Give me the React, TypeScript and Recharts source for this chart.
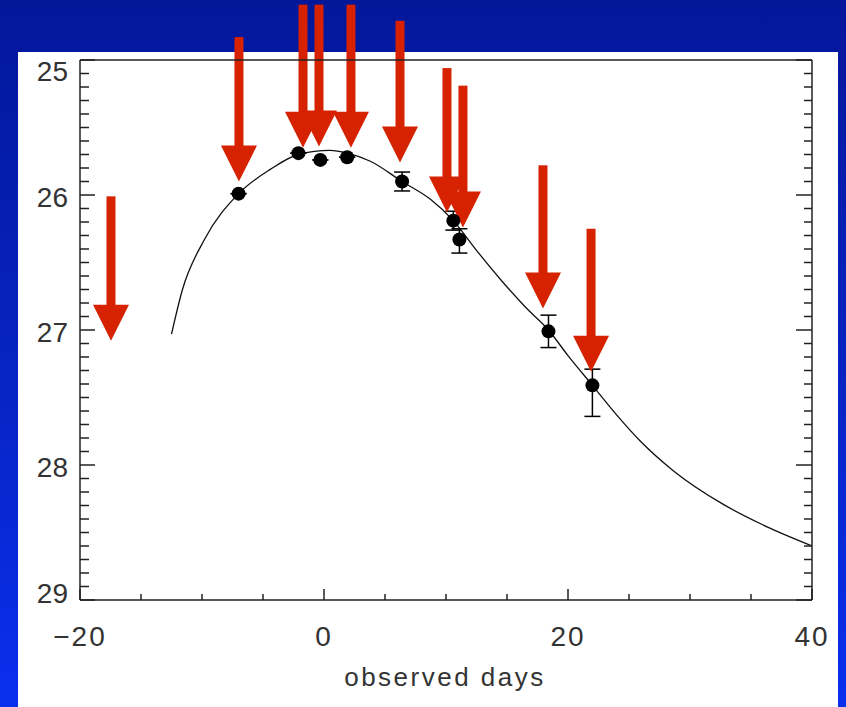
import {
  ComposedChart,
  ErrorBar,
  Line,
  ReferenceLine,
  Scatter,
  XAxis,
  YAxis,
} from "recharts";

// model light curve
const curveDays = [-12.5, -11.6, -9.8, -7.0, -4.4, -2.1, 0.5, 1.9, 3.8, 6.4, 8.7, 10.6, 12.5, 14.7, 16.5, 18.4, 20.0, 22.0, 24.0, 25.9, 28.6, 32.7, 36.6, 40];
const curveMags = [27.03, 26.7, 26.33, 25.99, 25.81, 25.7, 25.67, 25.69, 25.75, 25.9, 26.03, 26.19, 26.41, 26.65, 26.83, 27.0, 27.19, 27.41, 27.63, 27.82, 28.04, 28.29, 28.47, 28.6];

// observed points
const obsDays = [-7.0, -2.1, -0.3, 1.9, 6.4, 10.6, 11.1, 18.4, 22.0];
const obsMags = [25.99, 25.69, 25.74, 25.72, 25.9, 26.19, 26.33, 27.01, 27.41];
const obsErrLow = [0, 0, 0, 0, 0.07, 0.07, 0.08, 0.12, 0.12];
const obsErrHigh = [0, 0, 0, 0, 0.07, 0.07, 0.1, 0.12, 0.23];

// red epoch arrows: x, tip and tail in magnitudes
const arrowDays = [-17.46, -6.97, -1.72, -0.41, 2.21, 6.23, 10.08, 11.39, 17.95, 21.89];
const arrowTips = [27.08, 25.9, 25.65, 25.64, 25.65, 25.76, 26.13, 26.24, 26.84, 27.31];
const arrowTails = [26.01, 24.83, 24.59, 24.59, 24.59, 24.71, 25.06, 25.19, 25.78, 26.25];

const xTicks = [-20, -15, -10, -5, 0, 5, 10, 15, 20, 25, 30, 35, 40];
const xLabels = [-20, 0, 20, 40];
const yTicks = Array.from({ length: 41 }, (_, i) => +(25 + i * 0.1).toFixed(1));

const curveRows = curveDays.map((d, i) => ({ day: d, mag: curveMags[i] }));
const obsRows = obsDays.map((d, i) => ({
  day: d,
  mag: obsMags[i],
  err: [obsErrLow[i], obsErrHigh[i]],
}));

const AXIS = "#222";
const RED = "#d62200";
const FONT = "'Liberation Sans', Arial, sans-serif";

const isMajorY = (v: number) => Math.abs(v - Math.round(v)) < 1e-6;

const BottomTick = (props: any) => {
  const { x, y, payload } = props;
  const v = payload.value;
  const major = xLabels.includes(v);
  return (
    <g>
      <line x1={x} x2={x} y1={y} y2={y - (major ? 11 : 6)} stroke={AXIS} strokeWidth={1.5} />
      {major && (
        <text x={x} y={y + 46} textAnchor="middle" fontSize={28} fill="#333" fontFamily={FONT} letterSpacing={2}>
          {v < 0 ? "\u2212" + Math.abs(v) : v}
        </text>
      )}
    </g>
  );
};

const TopTick = (props: any) => {
  const { x, y, payload } = props;
  const major = xLabels.includes(payload.value);
  return <line x1={x} x2={x} y1={y} y2={y + (major ? 11 : 5)} stroke={AXIS} strokeWidth={1.5} />;
};

const LeftTick = (props: any) => {
  const { x, y, payload } = props;
  const v = payload.value;
  const major = isMajorY(v);
  const r = Math.round(v);
  const shift = r === 25 ? 11 : r === 29 ? -7 : 2;
  return (
    <g>
      <line x1={x} x2={x + (major ? 15 : 9)} y1={y} y2={y} stroke={AXIS} strokeWidth={1.5} />
      {major && (
        <text x={x - 12} y={y + shift} dy="0.36em" textAnchor="end" fontSize={28} fill="#333" fontFamily={FONT}>
          {r}
        </text>
      )}
    </g>
  );
};

const RightTick = (props: any) => {
  const { x, y, payload } = props;
  const major = isMajorY(payload.value);
  return <line x1={x} x2={x - (major ? 16 : 8)} y1={y} y2={y} stroke={AXIS} strokeWidth={1.5} />;
};

const Arrow = (props: any) => {
  const { x1, y1, x2, y2 } = props;
  const head = 36;
  return (
    <g>
      <rect x={x2 - 4.5} y={Math.min(y1, y2)} width={9} height={Math.abs(y2 - y1) - head + 1} fill={RED} />
      <polygon points={`${x2 - 18},${y2 - head} ${x2 + 18},${y2 - head} ${x2},${y2}`} fill={RED} />
    </g>
  );
};

const Dot = (props: any) => <circle cx={props.cx} cy={props.cy} r={7} fill="#000" />;

export default function App() {
  return (
    <div
      style={{
        position: "absolute",
        left: 0,
        top: 0,
        width: 846,
        height: 707,
        overflow: "hidden",
        background: "linear-gradient(180deg, #03179a 0%, #0724c4 55%, #0a2fee 100%)",
      }}
    >
      <div style={{ position: "absolute", left: 18, top: 52, width: 820, height: 655, background: "#fff" }} />
      <div style={{ position: "absolute", left: 0, top: 0 }}>
        <ComposedChart
          width={846}
          height={707}
          margin={{ top: 50, right: 24, bottom: 47, left: 20 }}
          style={{ overflow: "visible" }}
        >
          <XAxis
            xAxisId={0}
            dataKey="day"
            type="number"
            domain={[-20, 40]}
            ticks={xTicks}
            interval={0}
            height={60}
            tickSize={0}
            tickMargin={0}
            tickLine={false}
            axisLine={{ stroke: AXIS, strokeWidth: 1.5 }}
            tick={<BottomTick />}
            allowDataOverflow
          />
          <XAxis
            xAxisId="top"
            orientation="top"
            type="number"
            domain={[-20, 40]}
            ticks={xTicks}
            interval={0}
            height={10}
            tickSize={0}
            tickMargin={0}
            tickLine={false}
            axisLine={{ stroke: AXIS, strokeWidth: 1.5 }}
            tick={<TopTick />}
            allowDataOverflow
          />
          <YAxis
            yAxisId={0}
            type="number"
            domain={[25, 29]}
            reversed
            ticks={yTicks}
            interval={0}
            width={60}
            tickSize={0}
            tickMargin={0}
            tickLine={false}
            axisLine={{ stroke: AXIS, strokeWidth: 1.5 }}
            tick={<LeftTick />}
            allowDataOverflow
          />
          <YAxis
            yAxisId="right"
            orientation="right"
            type="number"
            domain={[25, 29]}
            reversed
            ticks={yTicks}
            interval={0}
            width={10}
            tickSize={0}
            tickMargin={0}
            tickLine={false}
            axisLine={{ stroke: AXIS, strokeWidth: 1.5 }}
            tick={<RightTick />}
            allowDataOverflow
          />
          <Line
            data={curveRows}
            dataKey="mag"
            type="monotone"
            dot={false}
            stroke="#111"
            strokeWidth={1.3}
            isAnimationActive={false}
          />
          <Scatter data={obsRows} dataKey="mag" shape={<Dot />} isAnimationActive={false}>
            <ErrorBar dataKey="err" direction="y" width={8} stroke="#000" strokeWidth={1.5} />
          </Scatter>
          {arrowDays.map((d, i) => (
            <ReferenceLine
              key={i}
              segment={[
                { x: d, y: arrowTails[i] },
                { x: d, y: arrowTips[i] },
              ]}
              ifOverflow="visible"
              shape={<Arrow />}
            />
          ))}
          <text x={445} y={686} textAnchor="middle" fontSize={26} fill="#333" fontFamily={FONT} letterSpacing={2.5}>
            observed days
          </text>
        </ComposedChart>
      </div>
    </div>
  );
}
